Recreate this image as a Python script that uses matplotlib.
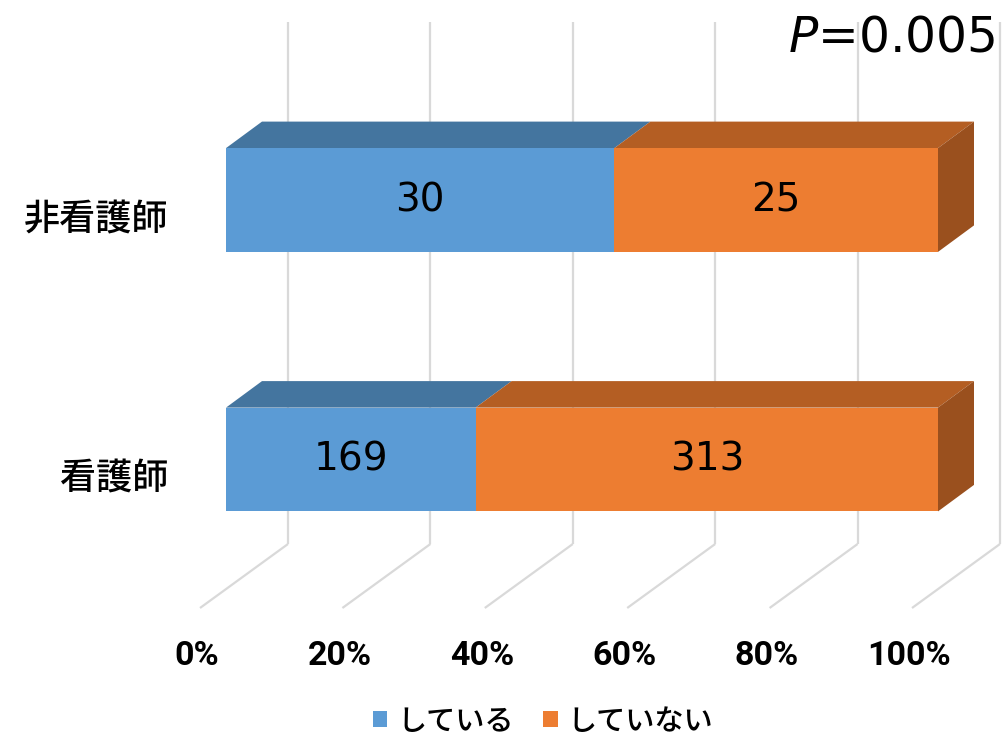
import matplotlib
matplotlib.use("Agg")
import matplotlib.pyplot as plt
from matplotlib.patches import Polygon, Patch

# ---- data ----
categories = ["看護師", "非看護師"]
series_names = ["している", "していない"]
doing = [169, 30]
not_doing = [313, 25]
tick_values = [0, 20, 40, 60, 80, 100]
tick_labels = ["0%", "20%", "40%", "60%", "80%", "100%"]
p_text = "$P$=0.005"

# ---- style ----
front_colors = ["#5B9BD5", "#ED7D31"]
top_colors = ["#44759F", "#B45E23"]
side_colors = ["#41709B", "#9A501E"]
grid_color = "#D9D9D9"
jp_font = ["Noto Sans CJK JP", "DejaVu Sans"]

W, H = 1002, 738
fig = plt.figure(figsize=(W / 100, H / 100), dpi=100)
ax = fig.add_axes([0, 0, 1, 1])
ax.set_axis_off()

# axis scale: x in percent of the front plane, y in category units
px_x = 7.12      # pixels per percent
px_y = 259.5     # pixels per category step
x0_px, y0_px = 226, 459.5
ax.set_xlim(-x0_px / px_x, (W - x0_px) / px_x)
ax.set_ylim((y0_px - H) / px_y, y0_px / px_y)

# 3D geometry (in data units)
bar_h = 0.40
depth_dx, depth_dy = 36 / px_x, 26.5 / px_y        # bar depth
wall_dx, wall_dy = 62 / px_x, 44.5 / px_y          # back wall offset from front plane
wall_top, wall_bottom = (y0_px - 22) / px_y, (y0_px - 544) / px_y
floor_dx, floor_dy = -88 / px_x, -64 / px_y

# back wall gridlines and floor lines
for v in tick_values:
    xb = v + wall_dx
    ax.plot([xb, xb], [wall_top, wall_bottom], color=grid_color, lw=1.6,
            zorder=1, solid_capstyle="butt")
    ax.plot([xb, xb + floor_dx], [wall_bottom, wall_bottom + floor_dy],
            color=grid_color, lw=1.6, zorder=1, solid_capstyle="butt")

# stacked 100% bars with top and side faces
ypos = list(range(len(categories)))
for i, y in enumerate(ypos):
    total = doing[i] + not_doing[i]
    shares = [doing[i] / total * 100, not_doing[i] / total * 100]
    counts = [doing[i], not_doing[i]]
    left = 0.0
    for s, (share, cnt) in enumerate(zip(shares, counts)):
        right = left + share
        ax.barh(y, share, left=left, height=bar_h, color=front_colors[s],
                edgecolor="none", zorder=3)
        ytop = y + bar_h / 2
        top = Polygon([(left, ytop), (right, ytop),
                       (right + depth_dx, ytop + depth_dy),
                       (left + depth_dx, ytop + depth_dy)],
                      closed=True, facecolor=top_colors[s], edgecolor="none",
                      zorder=2.5 + s * 0.1)
        ax.add_patch(top)
        if s == len(shares) - 1:
            ybot = y - bar_h / 2
            side = Polygon([(right, ybot), (right, ytop),
                            (right + depth_dx, ytop + depth_dy),
                            (right + depth_dx, ybot + depth_dy)],
                           closed=True, facecolor=side_colors[s],
                           edgecolor="none", zorder=2.8)
            ax.add_patch(side)
        ax.text((left + right) / 2, y, str(cnt), ha="center", va="center",
                fontsize=28, family="DejaVu Sans", color="black", zorder=5)
        left = right

# category labels
for y, cat in zip(ypos, categories):
    ax.text(-8.15, y - 0.078, cat, ha="right", va="center", fontsize=26,
            family=jp_font, fontweight="medium", color="black")

# percent tick labels under the floor lines
for v, lab in zip(tick_values, tick_labels):
    ax.text(v + wall_dx + floor_dx - 0.4, (y0_px - 656) / px_y, lab,
            ha="center", va="center", fontsize=24.5, fontweight="bold",
            family=["Roboto", "DejaVu Sans"], color="black")

# p-value annotation
fig.text(995 / W, 1 - 38 / H, p_text, ha="right", va="center", fontsize=35,
         family="DejaVu Sans", color="black")

# legend
handles = [Patch(facecolor=c, edgecolor="none") for c in front_colors]
fig.legend(handles, series_names, loc="center", ncol=2,
           bbox_to_anchor=(543 / W, 17 / H), frameon=False,
           prop={"family": jp_font, "size": 21, "weight": "medium"},
           handlelength=0.5, handleheight=0.5, handletextpad=0.35,
           columnspacing=1.0, borderaxespad=0)

fig.savefig("out.png", dpi=100)
